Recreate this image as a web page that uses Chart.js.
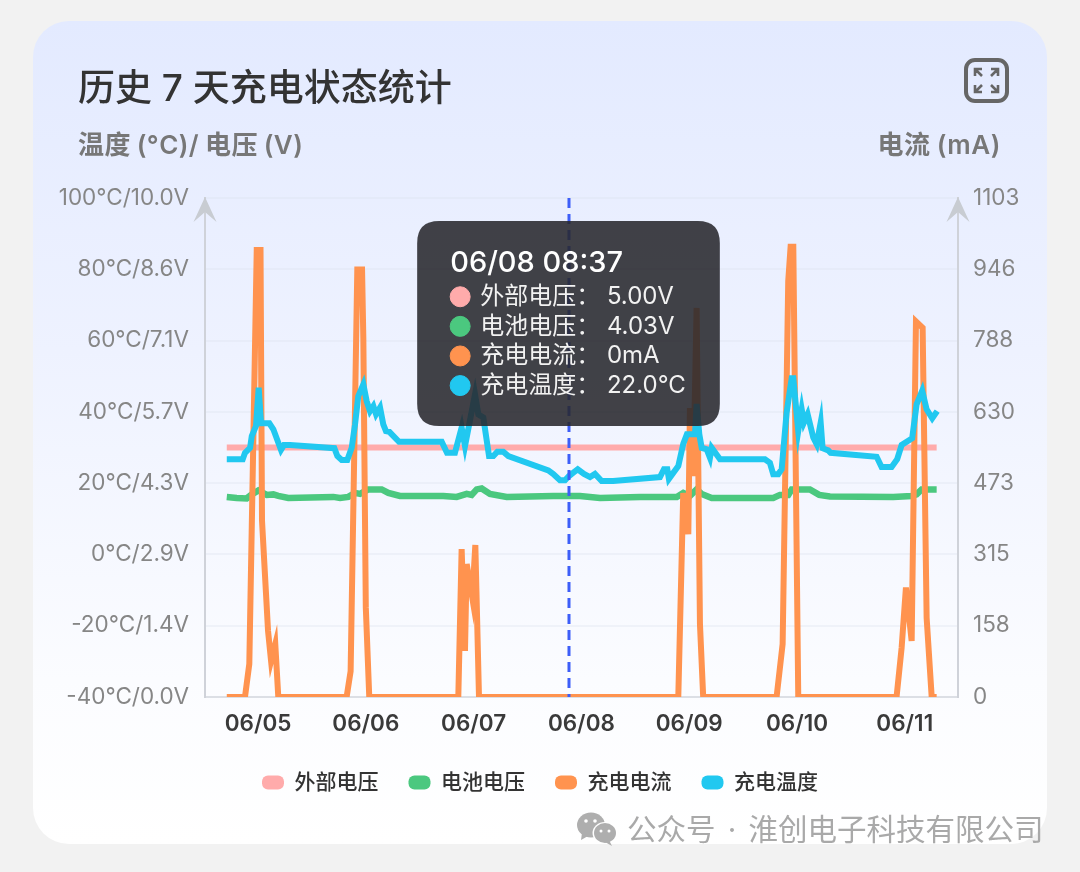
<!DOCTYPE html>
<html lang="zh">
<head>
<meta charset="utf-8">
<title>历史 7 天充电状态统计</title>
<script src="https://cdn.jsdelivr.net/npm/chart.js@4/dist/chart.umd.min.js"></script>
<style>
html,body{margin:0;padding:0;width:1080px;height:872px;overflow:hidden;background:#f2f2f2;font-family:Inter,"Noto Sans CJK SC",sans-serif}
#card{position:absolute;left:33px;top:21px;width:1014px;height:823px;border-radius:36px;background:linear-gradient(180deg,#e3eaff 0%,#eef2ff 40%,#fbfcff 80%,#ffffff 100%)}
canvas{position:absolute;left:0;top:0}
.t{position:absolute;white-space:nowrap}
#title{left:78px;top:62px;font-size:37px;line-height:52px;font-weight:500;color:#333}
#lt{left:78px;top:126px;font-size:26px;line-height:38px;font-weight:600;color:#777;word-spacing:-1px;letter-spacing:.4px}
#rt{right:79px;top:126px;font-size:26px;line-height:38px;font-weight:600;color:#777;word-spacing:-1px;letter-spacing:.6px}
#icon{position:absolute;left:964px;top:58px}
#wm{left:627px;top:808px;font-size:29.5px;line-height:42px;color:#a9a9a9;word-spacing:4px}
#wechat{position:absolute;left:576px;top:811px}
</style>
</head>
<body>
<div id="card"></div>
<canvas id="c" width="1080" height="872"></canvas>
<div class="t" id="title">历史 7 天充电状态统计</div>
<div class="t" id="lt">温度 (°C)/ 电压 (V)</div>
<div class="t" id="rt">电流 (mA)</div>
<svg id="icon" width="45" height="45" viewBox="0 0 45 45" fill="none" stroke="#666" stroke-width="3">
<rect x="2" y="2" width="41" height="41" rx="9" stroke-width="4"/>
<path d="M11 18V11H18M11 11L18 18M27 11H34V18M34 11L27 18M11 27V34H18M11 34L18 27M34 27V34H27M34 34L27 27" stroke-width="2.6"/>
</svg>
<svg id="wechat" width="44" height="36" viewBox="0 0 44 36">
<ellipse cx="15" cy="14" rx="14" ry="12.5" fill="#aeaeae"/><path d="M6 22l-1 7 7-4z" fill="#aeaeae"/>
<ellipse cx="29" cy="22" rx="12.5" ry="11" fill="#fff"/>
<ellipse cx="29" cy="22" rx="11" ry="10" fill="#aeaeae"/><path d="M33 29l3 6-7-4z" fill="#aeaeae"/>
<circle cx="10" cy="10" r="1.8" fill="#fff"/><circle cx="19" cy="10" r="1.8" fill="#fff"/>
<circle cx="25" cy="20" r="1.5" fill="#fff"/><circle cx="33" cy="20" r="1.5" fill="#fff"/>
</svg>
<div class="t" id="wm">公众号 · 淮创电子科技有限公司</div>
<script>
const seriesNames = ['外部电压', '电池电压', '充电电流', '充电温度'];
const dateLabels = ['06/05', '06/06', '06/07', '06/08', '06/09', '06/10', '06/11'];
const dateTicks = [5, 6, 7, 8, 9, 10, 11];
const tempTicks = [-40, -20, 0, 20, 40, 60, 80, 100];
const leftLabels = ['-40°C/0.0V', '-20°C/1.4V', '0°C/2.9V', '20°C/4.3V', '40°C/5.7V', '60°C/7.1V', '80°C/8.6V', '100°C/10.0V'];
const currentTicks = [0, 158, 315, 473, 630, 788, 946, 1103];
const cursorDay = 7.885;
const cursorLabel = '06/08 08:37';

const externalDays = [4.710, 7.885, 11.296];
const externalVolts = [5.00, 5.00, 5.00];

const batteryDays = [4.710,4.802,4.895,4.942,5.003,5.081,5.142,5.188,5.281,5.698,5.761,5.838,5.900,5.946,6.023,6.147,6.209,6.317,6.719,6.843,6.936,6.982,7.029,7.075,7.152,7.307,7.739,7.885,7.987,8.173,8.544,8.885,8.945,9.007,9.069,9.116,9.209,9.780,9.842,9.919,9.951,10.120,10.206,10.306,10.893,11.064,11.110,11.157,11.296];
const batteryVolts = [4.01,3.99,3.98,4.06,4.14,4.05,4.06,4.03,3.99,4.01,3.99,4.01,4.09,4.07,4.16,4.16,4.09,4.03,4.03,4.01,4.07,4.05,4.16,4.18,4.07,4.01,4.03,4.03,4.03,3.99,4.01,4.01,4.09,4.03,4.16,4.07,3.99,3.99,4.05,4.05,4.16,4.16,4.05,4.02,4.01,4.03,4.06,4.16,4.16];

const currentDays = [4.710,4.879,4.919,4.988,5.023,5.037,5.093,5.121,5.160,5.188,5.822,5.859,5.921,5.965,5.977,6.000,6.032,6.858,6.889,6.920,6.936,6.988,7.016,7.050,7.885,8.899,8.945,8.992,9.007,9.038,9.069,9.100,9.130,9.811,9.867,9.919,9.941,9.966,10.012,10.924,10.971,11.011,11.064,11.104,11.166,11.203,11.250,11.296];
const currentMa = [0,0,73,988,988,389,146,80,117,0,0,57,945,945,793,197,0,0,327,102,294,219,336,0,0,0,451,360,639,488,860,161,0,0,117,919,995,995,0,0,109,242,124,830,816,175,0,0];

const tempDays = [4.710,4.858,4.879,4.926,4.942,4.981,5.006,5.028,5.105,5.142,5.213,5.241,5.297,5.708,5.736,5.776,5.828,5.869,5.900,5.930,5.977,6.008,6.039,6.070,6.095,6.132,6.162,6.187,6.218,6.308,6.704,6.753,6.827,6.889,6.920,7.013,7.044,7.090,7.143,7.183,7.220,7.275,7.322,7.693,7.737,7.801,7.848,7.885,7.966,8.024,8.080,8.126,8.188,8.295,8.729,8.766,8.797,8.812,8.899,8.945,8.979,9.054,9.069,9.094,9.116,9.162,9.193,9.209,9.286,9.703,9.749,9.780,9.826,9.858,9.904,9.951,9.966,10.012,10.044,10.065,10.099,10.151,10.183,10.220,10.238,10.290,10.312,10.739,10.785,10.878,10.930,10.971,11.069,11.110,11.162,11.203,11.255,11.301];
const tempC = [26.7,26.7,28.5,29.9,33.2,36.0,46.8,36.8,36.8,35.1,29.3,30.7,30.7,29.8,27.6,26.5,26.5,29.9,36.5,44.4,47.7,43.0,40.2,41.6,39.3,41.2,36.5,34.6,34.4,31.6,31.6,28.5,28.5,35.6,30.4,44.9,39.3,38.4,27.6,27.6,28.8,28.8,27.6,23.6,22.6,20.8,20.8,22.0,23.9,22.6,21.7,22.6,20.6,20.6,21.7,23.9,23.9,21.2,24.8,31.0,33.7,33.7,42.2,33.7,29.9,29.5,27.1,29.9,26.7,26.7,25.7,22.5,22.5,23.9,39.8,49.4,49.4,34.6,40.7,37.0,39.3,32.8,30.9,37.0,29.8,29.2,28.5,27.4,24.5,24.5,26.7,30.7,32.6,42.1,45.9,40.7,38.2,40.2];

const colors = ['#ffabab', '#4bc87f', '#ff934f', '#21c8f0'];
const FF = 'Inter, "Noto Sans CJK SC", sans-serif';
const BOTTOM_PAD = 69;
const zip = (xs, ys) => xs.map((x, i) => ({x, y: ys[i]}));

const decor = {
  id: 'decor',
  beforeDatasetsDraw(chart) {
    const {ctx} = chart, L = chart.scales.yTemp, R = chart.scales.yCurrent;
    ctx.save();
    ctx.fillStyle = '#c8ccd2';
    [L.right, R.left].forEach(x => {
      const t = L.top - 1;
      ctx.beginPath();
      ctx.moveTo(x, t);
      ctx.lineTo(x + 11.5, t + 25);
      ctx.lineTo(x, t + 15);
      ctx.lineTo(x - 11.5, t + 25);
      ctx.closePath();
      ctx.fill();
    });
    ctx.restore();
  },
  afterDatasetsDraw(chart) {
    const {ctx} = chart, x = chart.scales.x.getPixelForValue(cursorDay), y = chart.scales.yTemp;
    ctx.save();
    ctx.strokeStyle = '#3d5ef8';
    ctx.lineWidth = 3;
    ctx.setLineDash([10, 6]);
    ctx.beginPath();
    ctx.moveTo(x, y.top);
    ctx.lineTo(x, y.bottom);
    ctx.stroke();
    ctx.restore();
  }
};

Chart.Tooltip.positioners.fixedBox = function (items) {
  const s = this.chart.scales;
  return {x: s.x.getPixelForValue(cursorDay) - 0.5, y: s.yTemp.getPixelForValue(64.8)};
};

const lineDs = (i, data, yAxisID, width, order) => ({
  label: seriesNames[i], data, yAxisID, xAxisID: 'x', order,
  borderColor: colors[i], backgroundColor: colors[i], borderWidth: width,
  pointRadius: 0, pointHoverRadius: 0, tension: 0, fill: false
});

const chart = new Chart(document.getElementById('c'), {
  type: 'line',
  data: {
    datasets: [
      lineDs(0, zip(externalDays, externalVolts), 'yVolt', 6, 3),
      lineDs(1, zip(batteryDays, batteryVolts), 'yVolt', 6.5, 2),
      lineDs(2, zip(currentDays, currentMa), 'yCurrent', 6, 1),
      lineDs(3, zip(tempDays, tempC), 'yTemp', 6, 0)
    ]
  },
  plugins: [decor],
  options: {
    responsive: false,
    animation: false,
    events: [],
    layout: {padding: {top: 198, bottom: BOTTOM_PAD, left: 0, right: 0}},
    plugins: {
      title: {display: false},
      legend: {
        position: 'bottom',
        labels: {
          boxWidth: 22, boxHeight: 14, useBorderRadius: true, borderRadius: 6, padding: 30,
          color: '#333', font: {family: FF, size: 21, weight: '500'},
          sort: (a, b) => a.datasetIndex - b.datasetIndex,
          generateLabels(c) {
            return Chart.defaults.plugins.legend.labels.generateLabels(c).map(l => ({...l, lineWidth: 0}));
          }
        }
      },
      tooltip: {
        enabled: true,
        position: 'fixedBox',
        xAlign: 'center', yAlign: 'center',
        caretSize: 0, caretPadding: 0,
        cornerRadius: 22,
        backgroundColor: 'rgba(40,40,45,0.88)',
        padding: {top: 25, bottom: 26, left: 33, right: 34},
        titleFont: {family: FF, size: 29, weight: '500'},
        titleColor: '#fff', titleMarginBottom: 1.6,
        bodyFont: {family: FF, size: 24, weight: '400'},
        bodyColor: '#f2f2f2', bodySpacing: 0.8,
        displayColors: true, usePointStyle: true, boxWidth: 20, boxHeight: 20, boxPadding: 8,
        multiKeyBackground: 'rgba(0,0,0,0)',
        animation: false,
        callbacks: {
          title: () => cursorLabel,
          label(it) {
            const v = it.parsed.y, i = it.datasetIndex;
            const text = i < 2 ? v.toFixed(2) + 'V' : i === 2 ? v + 'mA' : v.toFixed(1) + '°C';
            return seriesNames[i] + '： ' + text;
          },
          labelColor: it => ({borderColor: colors[it.datasetIndex], backgroundColor: colors[it.datasetIndex], borderWidth: 0}),
          labelPointStyle: () => ({pointStyle: 'circle', rotation: 0})
        }
      }
    },
    scales: {
      x: {
        type: 'linear', min: 4.508, max: 11.494,
        afterBuildTicks(s) { s.ticks = dateTicks.map(value => ({value})); },
        afterFit(s) { s.height = 872 - 697 - s.chart.legend.height - BOTTOM_PAD; },
        grid: {display: false},
        border: {display: true, color: '#dcdfe5', width: 2},
        ticks: {
          autoSkip: false, maxRotation: 0, padding: 6, color: '#3a3a3a',
          font: {family: FF, size: 22.5, weight: '600'},
          callback(v) { return dateLabels[dateTicks.indexOf(v)]; }
        }
      },
      yTemp: {
        type: 'linear', position: 'left', min: -40, max: 100,
        afterBuildTicks(s) { s.ticks = tempTicks.map(value => ({value})); },
        afterFit(s) { s.width = 205; },
        grid: {color: 'rgba(222,226,238,0.35)', lineWidth: 2, drawTicks: false},
        border: {display: true, color: '#cfd2d9', width: 2},
        ticks: {
          autoSkip: false, padding: 16, color: '#868686',
          font: {family: FF, size: 22.5},
          callback(v) { return leftLabels[tempTicks.indexOf(v)]; }
        }
      },
      yVolt: {type: 'linear', position: 'left', min: 0, max: 10, display: false},
      yCurrent: {
        type: 'linear', position: 'right', min: 0, max: 1103,
        afterBuildTicks(s) { s.ticks = currentTicks.map(value => ({value})); },
        afterFit(s) { s.width = 122; },
        grid: {display: false, drawTicks: false},
        border: {display: true, color: '#cfd2d9', width: 2},
        ticks: {
          autoSkip: false, padding: 15, color: '#868686',
          font: {family: FF, size: 22.5},
          callback(v) { return String(v); }
        }
      }
    }
  }
});

const active = [externalDays, batteryDays, currentDays, tempDays].map((days, datasetIndex) => ({datasetIndex, index: days.indexOf(cursorDay)}));
chart.tooltip.setActiveElements(active, {x: 0, y: 0});
chart.update();
</script>
</body>
</html>
